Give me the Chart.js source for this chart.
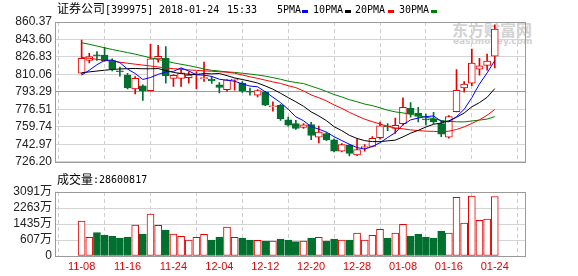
<!DOCTYPE html>
<html><head><meta charset="utf-8">
<script src="https://cdn.jsdelivr.net/npm/chart.js@4.4.0/dist/chart.umd.min.js"></script>
<style>
body{margin:0;background:#fff;}
#wrap{position:relative;width:578px;height:276px;overflow:hidden;background:#fff;}
canvas{position:absolute;left:0;}
.t{position:absolute;white-space:nowrap;line-height:14px;color:#000;}
.cjk{font-family:"Noto Sans CJK SC",sans-serif;font-size:12px;}
.mono{font-family:"DejaVu Sans Mono",monospace;font-size:10px;}
.sw{position:absolute;height:3px;width:6px;}
.wm{position:absolute;white-space:nowrap;color:#d2d2d2;font-weight:bold;}
</style></head>
<body>
<div id="wrap">
  <div class="wm" style="left:452px;top:19px;font-family:'Noto Sans CJK SC';font-size:16px;line-height:20px;">东方财富网</div>
  <div class="wm" style="left:453px;top:36px;font-family:'DejaVu Sans';font-size:9px;line-height:11px;">eastmoney.com</div>
  <canvas id="c1" width="578" height="172" style="top:0"></canvas>
  <canvas id="c2" width="578" height="104" style="top:172px"></canvas>
  <div class="t cjk" style="left:57px;top:1px;">证券公司</div>
  <div class="t mono" style="left:105px;top:3px;">[399975]</div>
  <div class="t mono" style="left:159px;top:3px;">2018-01-24</div>
  <div class="t mono" style="left:227px;top:3px;">15:33</div>
  <div class="t mono" style="left:277px;top:3px;">5PMA</div>
  <div class="sw" style="left:302px;top:10px;background:#0000ff"></div>
  <div class="t mono" style="left:313px;top:3px;">10PMA</div>
  <div class="sw" style="left:345px;top:10px;background:#000000"></div>
  <div class="t mono" style="left:355px;top:3px;">20PMA</div>
  <div class="sw" style="left:388px;top:10px;background:#ff0000"></div>
  <div class="t mono" style="left:399px;top:3px;">30PMA</div>
  <div class="sw" style="left:431px;top:10px;background:#008000"></div>
  <div class="t cjk" style="left:57px;top:172px;">成交量</div>
  <div class="t mono" style="left:93px;top:173px;">:28600817</div>
</div>
<script>
const dates = ['11-08','11-09','11-10','11-13','11-14','11-15','11-16','11-17','11-20','11-21','11-22','11-23','11-24','11-27','11-28','11-29','11-30','12-01','12-04','12-05','12-06','12-07','12-08','12-11','12-12','12-13','12-14','12-15','12-18','12-19','12-20','12-21','12-22','12-25','12-26','12-27','12-28','12-29','01-02','01-03','01-04','01-05','01-08','01-09','01-10','01-11','01-12','01-15','01-16','01-17','01-18','01-19','01-22','01-23','01-24'];
const xTickLabels = ['11-08','11-16','11-24','12-04','12-12','12-20','12-28','01-08','01-16','01-24'];

const openP  = [811.3,823.4,828.4,828.7,823.4,813.0,809.4,796.1,799.2,794.5,825.0,825.6,806.3,806.3,807.0,809.7,806.0,805.7,800.1,795.5,804.5,801.7,793.5,790.2,793.0,779.0,780.5,766.5,762.8,759.1,761.9,749.8,753.2,747.4,736.5,742.0,732.7,739.8,741.0,749.4,760.1,758.2,762.8,777.4,772.8,766.8,767.5,762.8,749.8,774.4,797.0,801.7,815.0,818.7,827.5];
const highP  = [843.0,830.3,832.1,836.1,825.0,817.2,811.0,807.9,800.1,839.0,838.0,836.8,810.0,815.7,812.6,812.6,821.9,808.0,802.3,805.2,805.7,803.3,797.0,795.4,793.9,783.7,781.4,769.1,765.9,762.8,764.1,760.4,754.2,748.3,743.6,743.0,748.8,742.7,750.4,764.4,762.8,768.1,787.7,783.0,778.4,772.1,773.7,765.9,770.6,814.7,803.3,834.3,825.6,829.6,857.6];
const lowP   = [810.3,821.0,823.4,822.5,813.5,808.5,796.1,791.4,785.2,794.2,821.9,801.7,798.6,798.6,801.7,796.1,803.3,801.5,792.4,794.0,794.9,792.9,790.2,788.4,780.0,774.7,765.9,760.4,757.3,758.2,747.4,744.2,746.4,735.6,735.6,731.8,732.1,736.5,740.5,747.9,756.0,753.5,761.3,769.1,764.4,761.3,762.8,750.4,748.8,774.0,793.0,799.2,809.4,814.1,816.3];
const closeP = [825.6,827.2,827.9,823.1,815.6,812.6,797.0,806.3,794.5,825.0,827.5,808.8,809.1,811.6,809.4,810.0,806.3,803.8,797.7,804.8,805.0,793.9,793.0,794.5,780.5,779.3,767.5,761.3,758.2,761.6,751.4,754.8,747.4,736.5,742.7,734.3,738.0,740.5,748.8,760.7,759.7,761.3,778.4,772.1,769.7,766.5,764.4,752.6,769.7,794.9,800.7,821.0,818.2,822.8,853.6];

const ma5  = [809.4,814.1,819.4,823.4,823.9,821.3,815.2,810.9,805.2,807.1,810.1,812.4,813.0,816.4,813.3,809.8,809.3,808.2,805.4,804.5,803.5,801.0,798.9,798.2,793.4,788.2,783.0,776.6,769.4,765.6,760.0,757.5,754.7,750.3,746.6,743.1,739.8,738.4,740.9,744.5,749.5,754.2,761.8,766.4,768.2,769.6,770.2,765.1,764.6,769.6,776.5,787.8,800.9,811.5,823.3];
const ma10 = [811.6,812.5,813.3,814.1,814.8,815.3,815.6,815.8,815.5,815.5,815.7,813.8,812.0,810.8,810.2,809.9,810.9,810.6,810.9,808.9,806.7,805.2,803.6,801.8,799.0,795.9,792.0,787.8,783.8,779.5,774.1,770.2,765.7,759.9,756.1,751.6,748.6,746.5,745.6,745.5,746.3,747.0,750.1,753.7,756.4,759.6,762.2,763.4,765.5,768.9,773.0,779.0,783.0,788.1,796.4];
const ma20 = [826.4,825.5,824.6,823.7,822.8,821.8,820.8,819.9,819.0,818.1,817.2,816.3,815.6,815.0,814.4,813.9,813.5,813.1,812.6,812.2,811.2,809.5,807.8,806.3,804.6,802.9,801.4,799.2,797.4,794.2,790.4,787.7,784.6,780.8,777.5,773.7,770.3,767.1,764.7,762.5,760.2,758.6,757.9,756.8,756.2,755.6,755.4,755.0,755.6,757.2,759.7,763.0,766.5,770.9,776.4];
const ma30 = [840.5,839.0,837.3,835.6,834.0,832.5,831.0,829.5,827.8,826.0,824.4,822.8,821.2,819.8,818.5,817.0,815.3,814.0,813.3,812.5,812.0,811.2,810.4,809.5,808.4,807.0,805.4,803.6,802.3,801.3,798.8,796.4,793.7,790.8,788.4,785.8,783.8,781.6,780.1,778.0,775.7,774.1,773.1,771.8,770.5,769.0,767.6,765.9,765.0,764.6,764.5,765.4,766.2,767.2,769.6];

// volume in 万
const volume = [1590,746,985,866,814,710,762,1383,918,1952,1368,1125,918,798,607,746,902,607,762,1280,746,710,607,591,555,555,659,607,519,555,710,746,555,659,607,607,969,607,850,1161,710,969,1420,814,918,762,710,1073,969,2817,1487,2884,1626,1694,2860];

const priceTickLabels = ['860.37','843.60','826.83','810.06','793.29','776.51','759.74','742.97','726.20'];
const volTickLabels = ['3091万','2263万','1435万','607万','0'];

const RED = '#e60000', GREEN = '#00702f';
const up = closeP.map((c, i) => c >= openP[i]);
const xTickIdx = xTickLabels.map(l => dates.indexOf(l));
const priceTicks = priceTickLabels.map(Number);
const volTickVals = volTickLabels.slice(0, 4).map(s => parseFloat(s));
const volMin = volTickVals[3] - (volTickVals[2] - volTickVals[3]);
const volTicks = volTickVals.concat([volMin]);
const X_MIN = -0.41, X_MAX = 54.88;

const boxPlugin = {
  id: 'box',
  afterDraw(chart) {
    const {ctx, chartArea: a} = chart;
    ctx.save();
    ctx.strokeStyle = '#9a9a9a';
    ctx.lineWidth = 1;
    ctx.strokeRect(Math.round(a.left) + 0.5, Math.round(a.top) + 0.5, Math.round(a.right - a.left), Math.round(a.bottom - a.top));
    ctx.restore();
  }
};

const axisFont = {family: "'Liberation Sans', Arial, 'Noto Sans CJK SC', sans-serif", size: 12};
const xFont = {family: "'Liberation Sans', Arial, sans-serif", size: 11};

function xAxis(showLabels, h) {
  return {
    type: 'linear', min: X_MIN, max: X_MAX,
    afterBuildTicks: s => { s.ticks = xTickIdx.map(v => ({value: v})); },
    ticks: {display: showLabels, autoSkip: false, maxRotation: 0, padding: 4, color: RED, font: xFont,
      callback: v => dates[v]},
    grid: {color: '#cfcfcf', drawTicks: false},
    border: {display: false, dash: [4, 3]},
    afterFit: s => { s.height = h; }
  };
}

const line = (label, arr, color) => ({
  type: 'line', label, data: arr.map((v, i) => ({x: i, y: v})),
  borderColor: color, borderWidth: 1, pointRadius: 0, tension: 0, order: 0
});

new Chart(document.getElementById('c1'), {
  type: 'bar',
  data: {datasets: [
    line('5PMA', ma5, '#0000ff'),
    line('10PMA', ma10, '#000000'),
    line('20PMA', ma20, '#ff0000'),
    line('30PMA', ma30, '#008000'),
    {label: 'body', data: openP.map((o, i) => ({x: i, y: [o, closeP[i]]})),
      backgroundColor: up.map(u => u ? '#ffffff' : GREEN), borderColor: up.map(u => u ? RED : GREEN),
      borderWidth: 1, borderSkipped: false, barThickness: 7, minBarLength: 1, grouped: false, order: 1},
    {label: 'wick', data: lowP.map((l, i) => ({x: i, y: [l, highP[i]]})),
      backgroundColor: up.map(u => u ? RED : GREEN), borderWidth: 0, barThickness: 1, grouped: false, order: 2}
  ]},
  options: {
    responsive: false, animation: false, devicePixelRatio: 1,
    layout: {padding: {left: 0, right: 53, top: 22, bottom: 0}},
    plugins: {legend: {display: false}, tooltip: {enabled: false}},
    scales: {
      x: xAxis(false, 6),
      y: {min: priceTicks[priceTicks.length - 1], max: priceTicks[0],
        afterBuildTicks: s => { s.ticks = priceTicks.map(v => ({value: v})); },
        ticks: {autoSkip: false, callback: (v, i) => priceTickLabels[i], font: axisFont, color: '#222', padding: 3},
        grid: {color: c => c.index === 4 ? '#9a9a9a' : '#d4d4d4', drawTicks: false},
        border: {display: false},
        afterFit: s => { s.width = 55; }}
    }
  },
  plugins: [boxPlugin]
});

new Chart(document.getElementById('c2'), {
  type: 'bar',
  data: {datasets: [
    {label: '成交量', data: volume.map((v, i) => ({x: i, y: v})), base: volMin,
      backgroundColor: up.map(u => u ? '#ffffff' : GREEN), borderColor: up.map(u => u ? RED : GREEN),
      borderWidth: 1, borderSkipped: false, barThickness: 7, grouped: false}
  ]},
  options: {
    responsive: false, animation: false, devicePixelRatio: 1,
    layout: {padding: {left: 0, right: 53, top: 20, bottom: 0}},
    plugins: {legend: {display: false}, tooltip: {enabled: false}},
    scales: {
      x: xAxis(true, 20),
      y: {min: volMin, max: volTicks[0],
        afterBuildTicks: s => { s.ticks = volTicks.map(v => ({value: v})); },
        ticks: {autoSkip: false, callback: (v, i) => volTickLabels[i], font: axisFont, color: '#222', padding: 3},
        grid: {color: '#d4d4d4', drawTicks: false},
        border: {display: false},
        afterFit: s => { s.width = 55; }}
    }
  },
  plugins: [boxPlugin]
});
</script>
</body></html>
